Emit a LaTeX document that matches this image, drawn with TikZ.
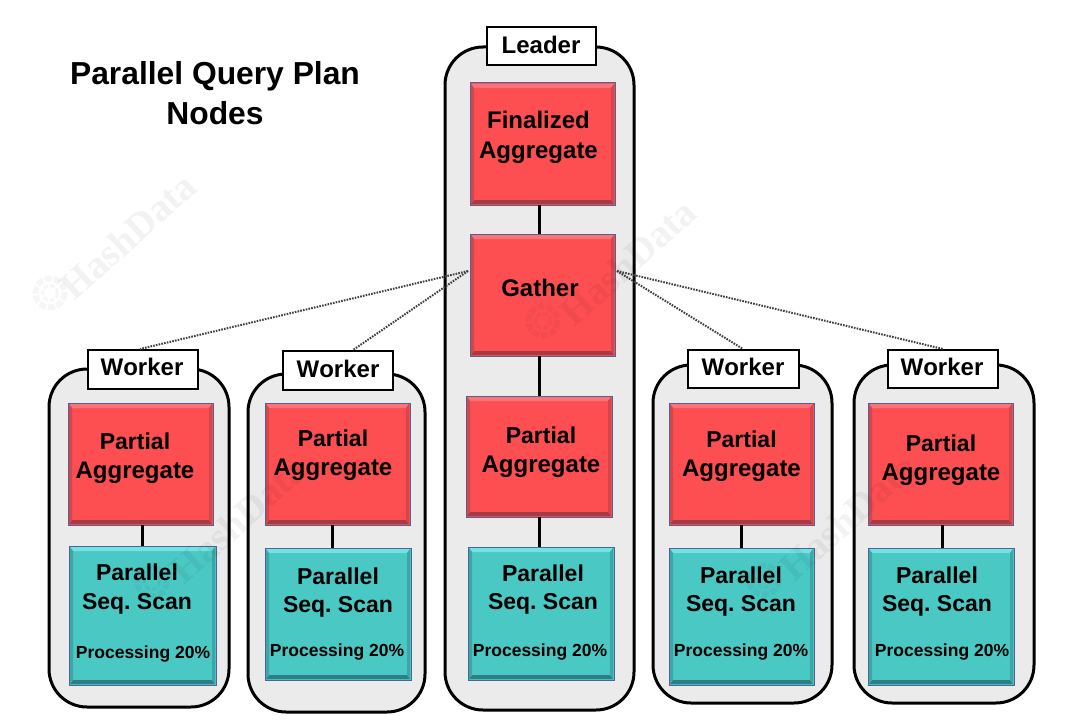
\documentclass[tikz,border=0pt]{standalone}
\usepackage{fontspec}
\setmainfont[Kerning=Off]{Liberation Sans}
\newfontfamily\wmfont{Liberation Serif}
\usetikzlibrary{calc}
\definecolor{redbox}{HTML}{FD4E52}
\definecolor{redtop}{HTML}{FE7278}
\definecolor{redlow}{HTML}{A33C44}
\definecolor{tealbox}{HTML}{4AC8C4}
\definecolor{tealtop}{HTML}{72E2E2}
\definecolor{teallow}{HTML}{2E7F84}
\definecolor{boxedge}{HTML}{4F6494}
\definecolor{panelfill}{HTML}{EBEBEB}
\tikzset{
  panel/.style={draw=black,line width=3pt,fill=panelfill,rounded corners=38pt,inner sep=0pt,outer sep=0pt},
  tagbox/.style={draw=black,line width=1.6pt,fill=white,inner sep=0pt,outer sep=0pt},
  bevelbox/.style={draw=boxedge,line width=1pt,fill=#1,inner sep=0pt,outer sep=0pt},
  lbl/.style={inner sep=0pt,anchor=base,font=\fontsize{23}{23}\selectfont\bfseries\frenchspacing},
  lblw/.style={inner sep=0pt,anchor=base,font=\fontsize{24}{24}\selectfont\bfseries},
  taglbl/.style={inner sep=0pt,anchor=base,font=\fontsize{24}{24}\selectfont\bfseries},
  smalllbl/.style={inner sep=0pt,anchor=base,font=\fontsize{17.5}{18}\selectfont\bfseries},
  titlelbl/.style={inner sep=0pt,anchor=base,font=\fontsize{31.8}{32}\selectfont\bfseries},
  link/.style={draw=black,line width=3pt},
  dots/.style={draw=black!75,line width=2pt,dash pattern=on 1.6pt off 1.2pt},
  wm/.style={inner sep=0pt,rotate=42,text=black,text opacity=0.05,font=\fontsize{39}{39}\selectfont\wmfont\bfseries},
  wmring/.style={draw=black,draw opacity=0.035}
}
% name, x1, y1, x2, y2, style
\newcommand{\rectnode}[6]{%
  \node[#6,minimum width={(#4-#2)*1pt},minimum height={(#5-#3)*1pt},anchor=north west] (#1) at (#2,#3) {};}
% name, x1,y1,x2,y2, main, top, low
\newcommand{\bevel}[8]{%
  \rectnode{#1}{#2}{#3}{#4}{#5}{bevelbox=#6}
  \fill[#7] (#2+1,#3+1) -- (#4-1,#3+1) -- (#4-4,#3+5) -- (#2+4,#3+5) -- cycle;
  \fill[#8] (#2+1,#5-1) -- (#4-1,#5-1) -- (#4-4,#5-5) -- (#2+4,#5-5) -- cycle;
  \fill[#8!45!#6] (#2+1,#3+1) -- (#2+4,#3+5) -- (#2+4,#5-5) -- (#2+1,#5-1) -- cycle;
  \fill[#8!45!#6] (#4-1,#3+1) -- (#4-4,#3+5) -- (#4-4,#5-5) -- (#4-1,#5-1) -- cycle;
}
\newcommand{\redb}[5]{\bevel{#1}{#2}{#3}{#4}{#5}{redbox}{redtop}{redlow}}
\newcommand{\tealb}[5]{\bevel{#1}{#2}{#3}{#4}{#5}{tealbox}{tealtop}{teallow}}
% watermark: name, text centre x, y, icon x, y
\newcommand{\wmark}[5]{%
  \draw[wmring,line width=6pt,dash pattern=on 7pt off 2pt] (#4,#5) circle (14.5);
  \draw[wmring,line width=3pt,dash pattern=on 5pt off 2pt] (#4,#5) circle (7.5);
  \node[wm] (#1) at (#2,#3) {HashData};}
\begin{document}
\begin{tikzpicture}[x=1pt,y=-1pt]
\useasboundingbox (0,0) rectangle (1080,725);
% panels
\rectnode{pl}{445}{47}{634}{710}{panel}
\rectnode{pa}{49}{369}{229}{707}{panel}
\rectnode{pb}{248}{374}{425}{712}{panel}
\rectnode{pc}{653}{365}{832}{703}{panel}
\rectnode{pd}{854}{365}{1034}{703}{panel}
% tags
\rectnode{ta}{88}{350}{198}{389}{tagbox}
\rectnode{tb}{283}{351}{393}{390}{tagbox}
\rectnode{tl}{487}{27}{596}{65}{tagbox}
\rectnode{tc}{688}{350}{799}{388}{tagbox}
\rectnode{td}{888}{350}{998}{388}{tagbox}
\node[taglbl] (ttl) at (541,53.5) {Leader};
\node[taglbl] (tta) at (142,375) {Worker};
\node[taglbl] (ttb) at (338,377) {Worker};
\node[taglbl] (ttc) at (743,375) {Worker};
\node[taglbl] (ttd) at (942,375) {Worker};
% dotted links
\coordinate (gl) at (468,271);
\coordinate (gr) at (617,271);
\coordinate (ea) at (140,349);
\coordinate (eb) at (353,350);
\coordinate (ec) at (743,349);
\coordinate (ed) at (943,349);
\draw[dots] (gl) -- (ea);
\draw[dots] (gl) -- (eb);
\draw[dots] (gr) -- (ec);
\draw[dots] (gr) -- (ed);
% boxes
\redb{fin}{470}{83}{615}{205}
\redb{gat}{470}{234}{615}{356}
\redb{pal}{466}{396}{612}{517}
\tealb{sl}{468}{547}{614}{680}
\redb{p1}{68}{403}{213}{525}
\tealb{s1}{69}{546}{216}{685}
\redb{p2}{265}{403}{410}{525}
\tealb{s2}{265}{548}{411}{680}
\redb{p3}{669}{403}{814}{525}
\tealb{s3}{669}{548}{814}{685}
\redb{p4}{868}{403}{1013}{525}
\tealb{s4}{868}{548}{1014}{685}
% links
\draw[link] ([xshift=-3.5pt]fin.south) -- ([xshift=-3.5pt]gat.north);
\draw[link] ([xshift=-3.5pt]gat.south) -- ([xshift=-3.5pt]gat.south |- pal.north);
\draw[link] (pal.south) -- (pal.south |- sl.north);
\draw[link] ([xshift=1.5pt]p1.south) -- ([xshift=1.5pt]p1.south |- s1.north);
\draw[link] ([xshift=-5.5pt]p2.south) -- ([xshift=-5.5pt]p2.south |- s2.north);
\draw[link] (p3.south) -- (s3.north);
\draw[link] ([xshift=1.5pt]p4.south) -- ([xshift=1.5pt]p4.south |- s4.north);
% watermarks
\wmark{wma}{128}{236}{50}{293}
\wmark{wmb}{628}{262}{543}{321}
\wmark{wmc}{238}{520}{152}{582}
\wmark{wmd}{848}{517}{764}{580}
% title
\node[titlelbl] (t1) at (215,84.5) {Parallel Query Plan};
\node[titlelbl] (t2) at (215,124.5) {Nodes};
% texts
\node[lblw] (f1) at (538.5,128.5) {Finalized};
\node[lblw] (f2) at (538.5,158) {Aggregate};
\node[lblw] (g1) at (540,296) {Gather};
\node[lbl] (a1) at (135,449) {Partial};
\node[lblw] (a2) at (135,478.5) {Aggregate};
\node[lbl] (b1) at (333,446) {Partial};
\node[lblw] (b2) at (333,475.5) {Aggregate};
\node[lbl] (l1) at (541,443) {Partial};
\node[lblw] (l2) at (541,472.5) {Aggregate};
\node[lbl] (c1) at (741.5,447) {Partial};
\node[lblw] (c2) at (741.5,476.5) {Aggregate};
\node[lbl] (d1) at (941,451) {Partial};
\node[lblw] (d2) at (941,480.5) {Aggregate};
\node[lbl] (a3) at (137,580.5) {Parallel};
\node[lbl] (a4) at (137,609) {Seq. Scan};
\node[lbl] (b3) at (338,584.5) {Parallel};
\node[lbl] (b4) at (338,612.5) {Seq. Scan};
\node[lbl] (l3) at (543,581.5) {Parallel};
\node[lbl] (l4) at (543,609.5) {Seq. Scan};
\node[lbl] (c3) at (741,583.5) {Parallel};
\node[lbl] (c4) at (741,611.5) {Seq. Scan};
\node[lbl] (d3) at (937,583.5) {Parallel};
\node[lbl] (d4) at (937,611.5) {Seq. Scan};
\node[smalllbl] (a5) at (143,658) {Processing 20\%};
\node[smalllbl] (b5) at (337,656) {Processing 20\%};
\node[smalllbl] (l5) at (540,656) {Processing 20\%};
\node[smalllbl] (c5) at (741,656) {Processing 20\%};
\node[smalllbl] (d5) at (942,656) {Processing 20\%};
\end{tikzpicture}
\end{document}
